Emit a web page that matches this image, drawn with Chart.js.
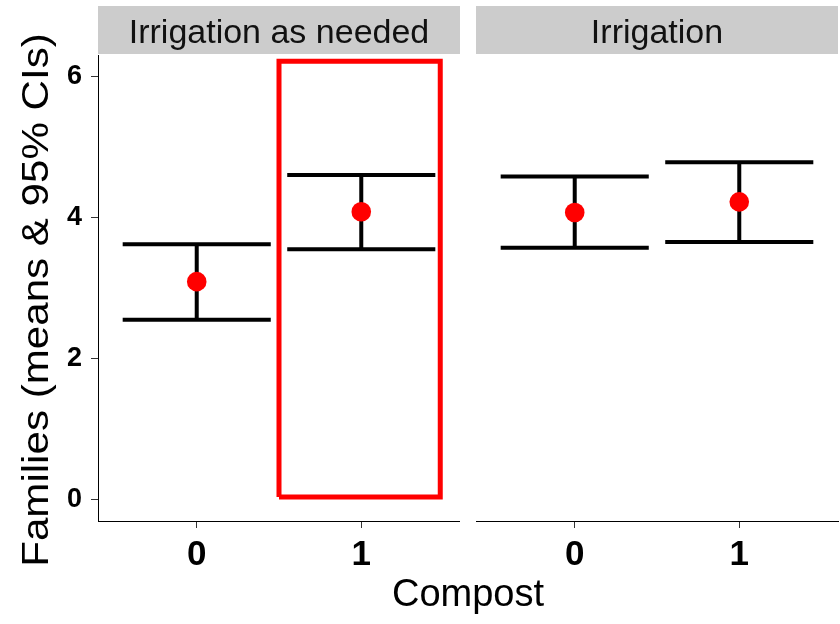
<!DOCTYPE html>
<html>
<head>
<meta charset="utf-8">
<script src="https://cdn.jsdelivr.net/npm/chart.js@4"></script>
<style>
  body { margin: 0; background: #fff; }
  #wrap { position: relative; width: 840px; height: 624px; overflow: hidden; }
  #wrap canvas { position: absolute; top: 0; }
  #xtitle {
    position: absolute; left: 98px; width: 740px; top: 572px;
    text-align: center; font: 38px "Liberation Sans", Arial, sans-serif; color: #000;
  }
  #ytitle {
    position: absolute; left: -260px; top: 275px; width: 600px; height: 50px;
    line-height: 50px; text-align: center; white-space: nowrap;
    font: 36px "Liberation Sans", Arial, sans-serif; color: #000;
    transform: rotate(-90deg) scaleX(1.17);
  }
</style>
</head>
<body>
<div id="wrap">
  <canvas id="chartNeeded" width="460" height="624" style="left:0;width:460px;height:624px"></canvas>
  <canvas id="chartIrr" width="364" height="624" style="left:476px;width:364px;height:624px"></canvas>
  <div id="ytitle">Families (means &amp; 95% CIs)</div>
  <div id="xtitle">Compost</div>
</div>
<script>
const panels = ["Irrigation as needed", "Irrigation"];
const compost = ["0", "1"];

const meansNeeded = [3.09, 4.08];
const lowerNeeded = [2.55, 3.55];
const upperNeeded = [3.62, 4.60];

const meansIrr = [4.07, 4.22];
const lowerIrr = [3.57, 3.65];
const upperIrr = [4.58, 4.78];

const yTicks = [0, 2, 4, 6];

// highlighted group (compost 1, irrigation as needed)
const boxX = [0.5, 1.48];
const boxY = [0.04, 6.21];

const CAP = 0.45;

// grey strip with the facet label above the plot area
const stripPlugin = {
  id: "strip",
  beforeDraw(chart, args, opts) {
    const { ctx, chartArea } = chart;
    ctx.save();
    ctx.fillStyle = "#cccccc";
    ctx.fillRect(chartArea.left, 6, chartArea.right - chartArea.left, 48);
    ctx.fillStyle = "#111";
    ctx.font = '34px "Liberation Sans", Arial, sans-serif';
    ctx.textAlign = "center";
    ctx.textBaseline = "alphabetic";
    ctx.fillText(opts.text, (chartArea.left + chartArea.right) / 2, 43);
    ctx.restore();
  }
};

function errorBarData(lower, upper) {
  let pts = [];
  compost.forEach((c, i) => {
    pts.push({ x: i - CAP, y: upper[i] }, { x: i + CAP, y: upper[i] }, { x: i, y: null });
    pts.push({ x: i - CAP, y: lower[i] }, { x: i + CAP, y: lower[i] }, { x: i, y: null });
    pts.push({ x: i, y: lower[i] }, { x: i, y: upper[i] }, { x: i, y: null });
  });
  return pts;
}

function makePanel(id, title, means, lower, upper, showY, withBox) {
  const datasets = [
    {
      type: "scatter",
      data: means.map((m, i) => ({ x: i, y: m })),
      backgroundColor: "#ff0000",
      pointRadius: 9.8,
      borderWidth: 0,
      order: 0
    },
    {
      type: "line",
      data: errorBarData(lower, upper),
      borderColor: "#000",
      borderWidth: 4,
      pointRadius: 0,
      spanGaps: false,
      order: 1
    }
  ];
  if (withBox) {
    datasets.push({
      type: "line",
      data: [
        { x: boxX[0], y: boxY[0] }, { x: boxX[1], y: boxY[0] },
        { x: boxX[1], y: boxY[1] }, { x: boxX[0], y: boxY[1] },
        { x: boxX[0], y: boxY[0] }
      ],
      borderColor: "#ff0000",
      borderWidth: 5,
      borderJoinStyle: "miter",
      pointRadius: 0,
      order: 2
    });
  }

  new Chart(document.getElementById(id), {
    data: { datasets: datasets },
    plugins: [stripPlugin],
    options: {
      responsive: false,
      animation: false,
      layout: { autoPadding: false, padding: { top: 55, left: 0, right: showY ? 0 : 2, bottom: 0 } },
      plugins: {
        legend: { display: false },
        tooltip: { enabled: false },
        strip: { text: title }
      },
      scales: {
        x: {
          type: "linear",
          min: -0.6,
          max: 1.6,
          afterBuildTicks: s => { s.ticks = compost.map((c, i) => ({ value: i })); },
          afterFit: s => { s.height = 103; },
          ticks: {
            callback: v => compost[v],
            font: { family: "Liberation Sans", size: 35, weight: "bold" },
            color: "#000",
            padding: 6,
            maxRotation: 0
          },
          grid: { drawOnChartArea: false, tickLength: 7, tickColor: "#333", tickWidth: 1 },
          border: { display: true, color: "#000", width: 1 }
        },
        y: {
          display: showY,
          min: -0.3,
          max: 6.3,
          afterBuildTicks: s => { s.ticks = yTicks.map(v => ({ value: v })); },
          afterFit: s => { s.width = showY ? 98 : 0; },
          ticks: {
            font: { family: "Liberation Sans", size: 27, weight: "bold" },
            color: "#000",
            padding: 9
          },
          grid: { drawOnChartArea: false, tickLength: 7, tickColor: "#333", tickWidth: 1 },
          border: { display: true, color: "#000", width: 1 }
        }
      }
    }
  });
}

makePanel("chartNeeded", panels[0], meansNeeded, lowerNeeded, upperNeeded, true, true);
makePanel("chartIrr", panels[1], meansIrr, lowerIrr, upperIrr, false, false);
</script>
</body>
</html>
